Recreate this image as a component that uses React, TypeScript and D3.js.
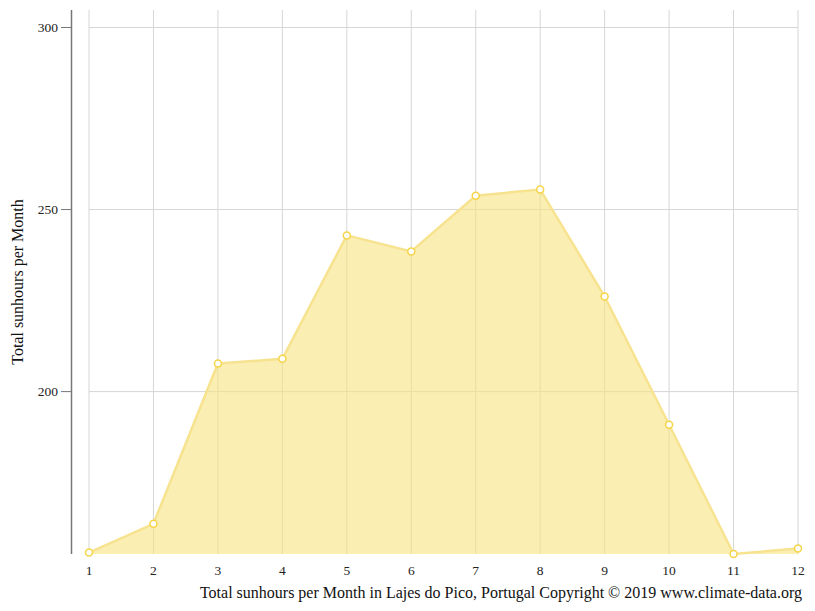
import { useEffect, useRef } from 'react';
import * as d3 from 'd3';

const months = [1, 2, 3, 4, 5, 6, 7, 8, 9, 10, 11, 12];
const sunhours = [155.8, 163.7, 207.7, 209.0, 242.9, 238.5, 253.8, 255.5, 226.1, 190.9, 155.4, 156.9];
const yTicks = [200, 250, 300];

export default function App() {
  const svgRef = useRef<SVGSVGElement>(null);

  useEffect(() => {
    if (!svgRef.current) return;
    const width = 815;
    const height = 611;
    const svg = d3.select(svgRef.current);
    svg.selectAll('*').remove();

    const x = d3.scaleLinear().domain([1, 12]).range([89, 798]);
    const y = d3.scaleLinear().domain([155.4, 304.8]).range([554, 10]);
    const font = '"Liberation Serif", "DejaVu Serif", serif';

    // grid
    svg.append('g')
      .selectAll('line')
      .data(months)
      .enter()
      .append('line')
      .attr('x1', d => x(d)).attr('x2', d => x(d))
      .attr('y1', 10).attr('y2', 554)
      .attr('stroke', '#d6d6d6').attr('stroke-width', 1);

    svg.append('g')
      .selectAll('line')
      .data(yTicks)
      .enter()
      .append('line')
      .attr('x1', 89).attr('x2', 798)
      .attr('y1', d => y(d)).attr('y2', d => y(d))
      .attr('stroke', '#d6d6d6').attr('stroke-width', 1);

    // area
    const area = d3.area<number>()
      .x((_, i) => x(months[i]))
      .y0(y(155.4))
      .y1(d => y(d));
    svg.append('path')
      .datum(sunhours)
      .attr('d', area)
      .attr('fill', '#f7e27e')
      .attr('fill-opacity', 0.6);

    const line = d3.line<number>()
      .x((_, i) => x(months[i]))
      .y(d => y(d));
    svg.append('path')
      .datum(sunhours)
      .attr('d', line)
      .attr('fill', 'none')
      .attr('stroke', '#f7e38f')
      .attr('stroke-width', 2.5);

    svg.append('g')
      .selectAll('circle')
      .data(sunhours)
      .enter()
      .append('circle')
      .attr('cx', (_, i) => x(months[i]))
      .attr('cy', d => y(d))
      .attr('r', 3.5)
      .attr('fill', '#fff')
      .attr('stroke', '#f5d547')
      .attr('stroke-width', 1.5);

    // y axis
    svg.append('line')
      .attr('x1', 71.5).attr('x2', 71.5)
      .attr('y1', 10).attr('y2', 554)
      .attr('stroke', '#777').attr('stroke-width', 1.5);

    const yt = svg.append('g')
      .selectAll('g')
      .data(yTicks)
      .enter()
      .append('g');
    yt.append('line')
      .attr('x1', 61).attr('x2', 71)
      .attr('y1', d => y(d)).attr('y2', d => y(d))
      .attr('stroke', '#777');
    yt.append('text')
      .attr('x', 58)
      .attr('y', d => y(d))
      .attr('dy', '0.35em')
      .attr('text-anchor', 'end')
      .style('font-family', font)
      .style('font-size', '13.5px')
      .attr('fill', '#222')
      .text(d => d);

    svg.append('g')
      .selectAll('text')
      .data(months)
      .enter()
      .append('text')
      .attr('x', d => x(d))
      .attr('y', 575)
      .attr('text-anchor', 'middle')
      .style('font-family', font)
      .style('font-size', '13.5px')
      .attr('fill', '#222')
      .text(d => d);

    svg.append('text')
      .attr('transform', 'rotate(-90)')
      .attr('x', -282)
      .attr('y', 23)
      .attr('text-anchor', 'middle')
      .style('font-family', font)
      .style('font-size', '16px')
      .attr('fill', '#111')
      .text('Total sunhours per Month');

    svg.append('text')
      .attr('x', 802)
      .attr('y', 598)
      .attr('text-anchor', 'end')
      .style('font-family', font)
      .style('font-size', '16px')
      .attr('fill', '#111')
      .text('Total sunhours per Month in Lajes do Pico, Portugal Copyright © 2019 www.climate-data.org');

    svg.attr('width', width).attr('height', height);
  }, []);

  return (
    <div style={{ position: 'absolute', left: 0, top: 0 }}>
      <svg ref={svgRef} style={{ display: 'block' }}></svg>
    </div>
  );
}
